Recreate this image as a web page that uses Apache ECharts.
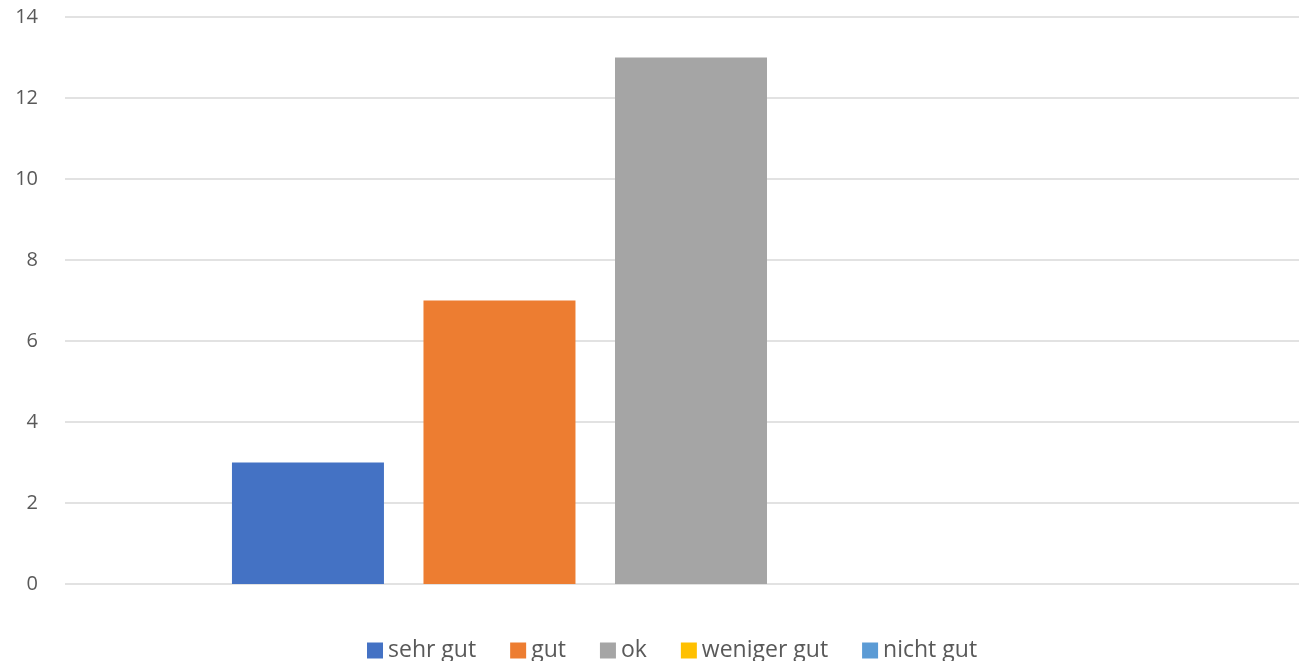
<!DOCTYPE html>
<html>
<head>
<meta charset="utf-8">
<script src="https://cdn.jsdelivr.net/npm/echarts@6/dist/echarts.min.js"></script>
<style>html,body{margin:0;padding:0;background:#fff}#c{width:1299px;height:661px}</style>
</head>
<body>
<div id="c"></div>
<script>
const categories = [''];
const seriesNames = ['sehr gut', 'gut', 'ok', 'weniger gut', 'nicht gut'];
const seriesValues = [[3], [7], [13], [0], [0]];
const colors = ['#4472C4', '#ED7D31', '#A5A5A5', '#FFC000', '#5B9BD5'];
const yTicks = { min: 0, max: 14, interval: 2 };

const FONT = 'Open Sans, Noto Sans, sans-serif';
const chart = echarts.init(document.getElementById('c'));
chart.setOption({
  animation: false,
  color: colors,
  textStyle: { fontFamily: FONT },
  grid: [
    { left: 83, right: 0, top: 17, bottom: 77 },
    { left: 65, right: 0, top: 17, bottom: 77 }
  ],
  legend: {
    top: 639,
    left: 362,
    padding: [0, 5],
    icon: 'rect',
    itemWidth: 16,
    itemHeight: 16,
    itemGap: 34,
    textStyle: { fontSize: 23, color: '#595959', fontFamily: FONT },
    data: seriesNames
  },
  xAxis: [
    {
      type: 'category', gridIndex: 0, data: categories,
      axisLine: { show: false }, axisTick: { show: false }, axisLabel: { show: false }
    },
    {
      type: 'category', gridIndex: 1, data: categories,
      axisLine: { show: false }, axisTick: { show: false }, axisLabel: { show: false }
    }
  ],
  yAxis: [
    {
      type: 'value', gridIndex: 0,
      min: yTicks.min, max: yTicks.max, interval: yTicks.interval,
      axisLine: { show: false }, axisTick: { show: false },
      axisLabel: { show: false }, splitLine: { show: false }
    },
    {
      type: 'value', gridIndex: 1,
      min: yTicks.min, max: yTicks.max, interval: yTicks.interval,
      axisLine: { show: false }, axisTick: { show: false },
      axisLabel: { margin: 27, fontSize: 20, color: '#595959' },
      splitLine: { lineStyle: { color: '#D9D9D9', width: 1.5 } }
    }
  ],
  series: seriesNames.map((n, i) => ({
    name: n,
    type: 'bar',
    xAxisIndex: 0,
    yAxisIndex: 0,
    data: seriesValues[i],
    barWidth: 152,
    barGap: '26%',
    z: 3,
    itemStyle: { color: colors[i] }
  }))
});
</script>
</body>
</html>
